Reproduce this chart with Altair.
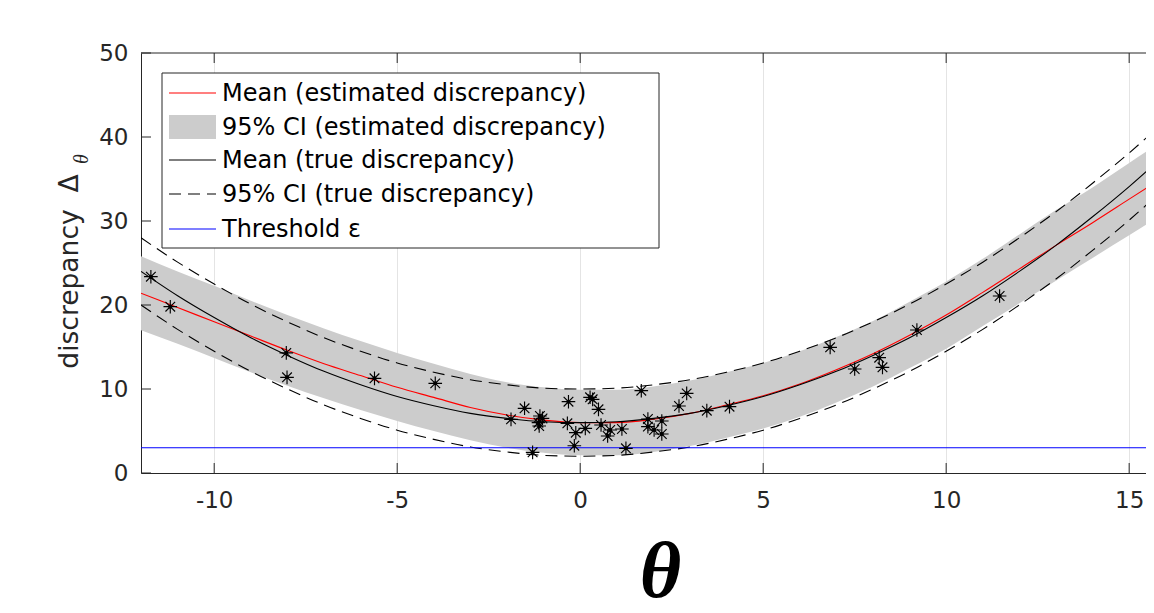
import altair as alt
import pandas as pd

# ---------------- data ----------------
theta_grid = [-12, -11, -10, -9, -8, -7, -6, -5, -4, -3, -2, -1, 0, 1, 2, 3, 4, 5, 6,
              7, 8, 9, 10, 11, 12, 13, 14, 15, 16]
est_mean = [21.4, 19.7, 18.0, 16.3, 14.6, 13.0, 11.6, 10.2, 9.0, 7.8, 6.9, 6.3, 6.0, 6.0, 6.4,
            7.1, 8.1, 9.2, 10.6, 12.3, 14.2, 16.4, 18.8, 21.5, 24.3, 27.1, 29.8, 32.6, 35.4]
est_hi = [25.8, 24.0, 22.3, 20.5, 18.8, 17.2, 15.7, 14.3, 13.0, 11.8, 10.8, 10.2, 9.9, 9.9, 10.3,
          11.0, 12.0, 13.1, 14.5, 16.2, 18.1, 20.4, 22.8, 25.5, 28.4, 31.3, 34.0, 36.9, 39.8]
est_lo = [17.0, 15.4, 13.7, 12.0, 10.4, 8.9, 7.5, 6.2, 5.0, 3.9, 3.0, 2.4, 2.1, 2.1, 2.5,
          3.2, 4.2, 5.3, 6.7, 8.4, 10.3, 12.5, 14.8, 17.5, 20.2, 22.9, 25.6, 28.3, 31.0]
true_mean = [24.0, 21.1, 18.5, 16.1, 14.0, 12.1, 10.5, 9.1, 8.0, 7.1, 6.5, 6.1, 6.0, 6.1, 6.5,
             7.1, 8.0, 9.1, 10.5, 12.1, 14.0, 16.1, 18.5, 21.1, 24.0, 27.1, 30.5, 34.1, 38.0]
true_hi = [28.0, 25.1, 22.5, 20.1, 18.0, 16.1, 14.5, 13.1, 12.0, 11.1, 10.5, 10.1, 10.0, 10.1, 10.5,
           11.1, 12.0, 13.1, 14.5, 16.1, 18.0, 20.1, 22.5, 25.1, 28.0, 31.1, 34.5, 38.1, 42.0]
true_lo = [20.0, 17.1, 14.5, 12.1, 10.0, 8.1, 6.5, 5.1, 4.0, 3.1, 2.5, 2.1, 2.0, 2.1, 2.5,
           3.1, 4.0, 5.1, 6.5, 8.1, 10.0, 12.1, 14.5, 17.1, 20.0, 23.1, 26.5, 30.1, 34.0]

pts_theta = [-11.73, -11.20, -8.03, -8.01, -5.62, -3.96, -1.89, -1.52, -1.10, -1.03, -1.14, -1.12,
             -1.30, -0.32, -0.35, -0.12, -0.16, 0.14, 0.27, 0.34, 0.50, 0.57, 0.82, 0.75, 1.14,
             1.25, 1.67, 1.85, 1.85, 2.02, 2.23, 2.23, 2.70, 2.91, 3.46, 4.08, 6.83, 7.50, 8.17,
             8.26, 9.20, 11.46, 15.68]
pts_delta = [23.37, 19.8, 14.3, 11.39, 11.27, 10.67, 6.39, 7.70, 6.79, 6.5, 5.99, 5.6,
             2.46, 8.49, 5.91, 4.8, 3.25, 5.31, 9.01, 8.77, 7.58, 5.71, 5.12, 4.40, 5.24,
             2.94, 9.80, 6.43, 5.52, 5.12, 6.19, 4.64, 7.98, 9.48, 7.42, 7.9, 14.96, 12.38, 13.73,
             12.58, 17.02, 21.07, 34.5]

threshold = [3.0]
x_ticks = [-10, -5, 0, 5, 10, 15]
y_ticks = [0, 10, 20, 30, 40, 50]
legend_labels = ["Mean (estimated discrepancy)", "95% CI (estimated discrepancy)",
                 "Mean (true discrepancy)", "95% CI (true discrepancy)", "Threshold ε"]

# ---------------- chart ----------------
W, H = 1005, 420
FONT = "DejaVu Sans"
AX = "#262626"

curves = pd.DataFrame({"theta": theta_grid, "est": est_mean, "est_lo": est_lo, "est_hi": est_hi,
                       "tru": true_mean, "tru_lo": true_lo, "tru_hi": true_hi})
pts = pd.DataFrame({"theta": pts_theta, "delta": pts_delta})
thr = pd.DataFrame({"eps": threshold})
xt = pd.DataFrame({"t": x_ticks})
yt = pd.DataFrame({"t": y_ticks})
one = pd.DataFrame({"a": [0]})

xs = alt.Scale(domain=[-12, 15.46], nice=False, zero=False)
ys = alt.Scale(domain=[0, 50], nice=False, zero=False)

x_axis = alt.Axis(values=x_ticks, grid=True, gridColor="#e4e4e4", gridWidth=1, ticks=False,
                  domainColor=AX, domainWidth=1, labelFont=FONT, labelFontSize=23,
                  labelColor=AX, labelPadding=16, labelFlush=False,
                  labelExpr="'' + datum.value",
                  title="θ", titleFont="Liberation Serif", titleFontWeight="bold",
                  titleFontStyle="italic", titleFontSize=80, titleColor="black",
                  titleX=519, titleY=123, titleBaseline="alphabetic", titleAlign="center")
y_axis = alt.Axis(values=y_ticks, grid=False, ticks=False, domainColor=AX, domainWidth=1,
                  labelFont=FONT, labelFontSize=23, labelColor=AX, labelPadding=13,
                  labelExpr="'' + datum.value",
                  title="discrepancy\u00a0\u00a0Δ", titleFont=FONT, titleFontSize=26.5,
                  titleFontWeight="normal", titleColor=AX, titleAngle=270,
                  titleX=-64, titleY=218, titleAlign="center", titleBaseline="alphabetic")


def X(field):
    return alt.X(field, scale=xs, axis=x_axis)


def Y(field):
    return alt.Y(field, scale=ys, axis=y_axis)


band = alt.Chart(curves).mark_area(color="#cccccc", opacity=1, clip=True, interpolate="monotone").encode(
    x=X("theta:Q"), y=Y("est_lo:Q"), y2="est_hi:Q")


def curve(field, color, dash=None):
    kw = dict(color=color, strokeWidth=1.1, clip=True, interpolate="monotone")
    if dash:
        kw["strokeDash"] = dash
    return alt.Chart(curves).mark_line(**kw).encode(x=X("theta:Q"), y=Y(field + ":Q"))


red = curve("est", "#ff0000")
black = curve("tru", "#000000")
dash_hi = curve("tru_hi", "#000000", [12, 7])
dash_lo = curve("tru_lo", "#000000", [12, 7])

blue = alt.Chart(thr).mark_rule(color="#0000ff", strokeWidth=1.1).encode(y=Y("eps:Q"))

star_path = "M0,-1L0,1M-1,0L1,0M-0.71,-0.71L0.71,0.71M-0.71,0.71L0.71,-0.71"
stars = alt.Chart(pts).mark_point(shape=star_path, size=185, filled=False, stroke="black",
                                  strokeWidth=1.15, opacity=1, clip=True).encode(
    x=X("theta:Q"), y=Y("delta:Q"))
dots = alt.Chart(pts).mark_circle(size=16, color="black", opacity=1, clip=True).encode(
    x=X("theta:Q"), y=Y("delta:Q"))

top_border = alt.Chart(one).mark_rule(color=AX, strokeWidth=1).encode(
    x=alt.value(0), x2=alt.value(W), y=alt.value(0))
bottom_ticks = alt.Chart(xt).mark_rule(color=AX, strokeWidth=1).encode(
    x=X("t:Q"), y=alt.value(H), y2=alt.value(H - 10))
top_ticks = alt.Chart(xt).mark_rule(color=AX, strokeWidth=1).encode(
    x=X("t:Q"), y=alt.value(0), y2=alt.value(10))
left_ticks = alt.Chart(yt).mark_rule(color=AX, strokeWidth=1).encode(
    y=Y("t:Q"), x=alt.value(0), x2=alt.value(10))

sub_theta = alt.Chart(one).mark_text(text="θ", font="Liberation Serif", fontStyle="italic",
                                     fontSize=20, angle=270, align="center", baseline="middle",
                                     color=AX).encode(x=alt.value(-59), y=alt.value(106))

# legend (drawn by hand, on top)
LX0, LX1, LY0, LY1 = 21, 518, 20, 195
rows = [40, 74, 107, 141, 176]
leg = [alt.Chart(one).mark_rect(fill="white", stroke=AX, strokeWidth=1).encode(
    x=alt.value(LX0), x2=alt.value(LX1), y=alt.value(LY0), y2=alt.value(LY1))]
sample_styles = [("#ff0000", None), None, ("#000000", None), ("#000000", [12, 7]), ("#0000ff", None)]
for i, (lab, st) in enumerate(zip(legend_labels, sample_styles)):
    r = rows[i]
    if st is None:
        leg.append(alt.Chart(one).mark_rect(fill="#cccccc").encode(
            x=alt.value(28), x2=alt.value(75), y=alt.value(r - 12), y2=alt.value(r + 12)))
    else:
        kw = dict(color=st[0], strokeWidth=1.1)
        if st[1]:
            kw["strokeDash"] = st[1]
        leg.append(alt.Chart(one).mark_rule(**kw).encode(
            x=alt.value(28), x2=alt.value(75), y=alt.value(r)))
    leg.append(alt.Chart(one).mark_text(text=lab, font=FONT, fontSize=24, align="left",
                                        baseline="middle", color="black").encode(
        x=alt.value(81), y=alt.value(r + 1)))

chart = alt.layer(band, red, black, dash_hi, dash_lo, blue, stars, dots,
                  top_border, bottom_ticks, top_ticks, left_ticks, sub_theta, *leg).properties(
    width=W, height=H,
    autosize=alt.AutoSizeParams(type="none"),
    padding={"left": 133, "top": 45, "right": 0, "bottom": 125},
    background="white",
).configure_view(strokeWidth=0)

chart.save("out.html", embed_options={"renderer": "svg", "actions": False})
